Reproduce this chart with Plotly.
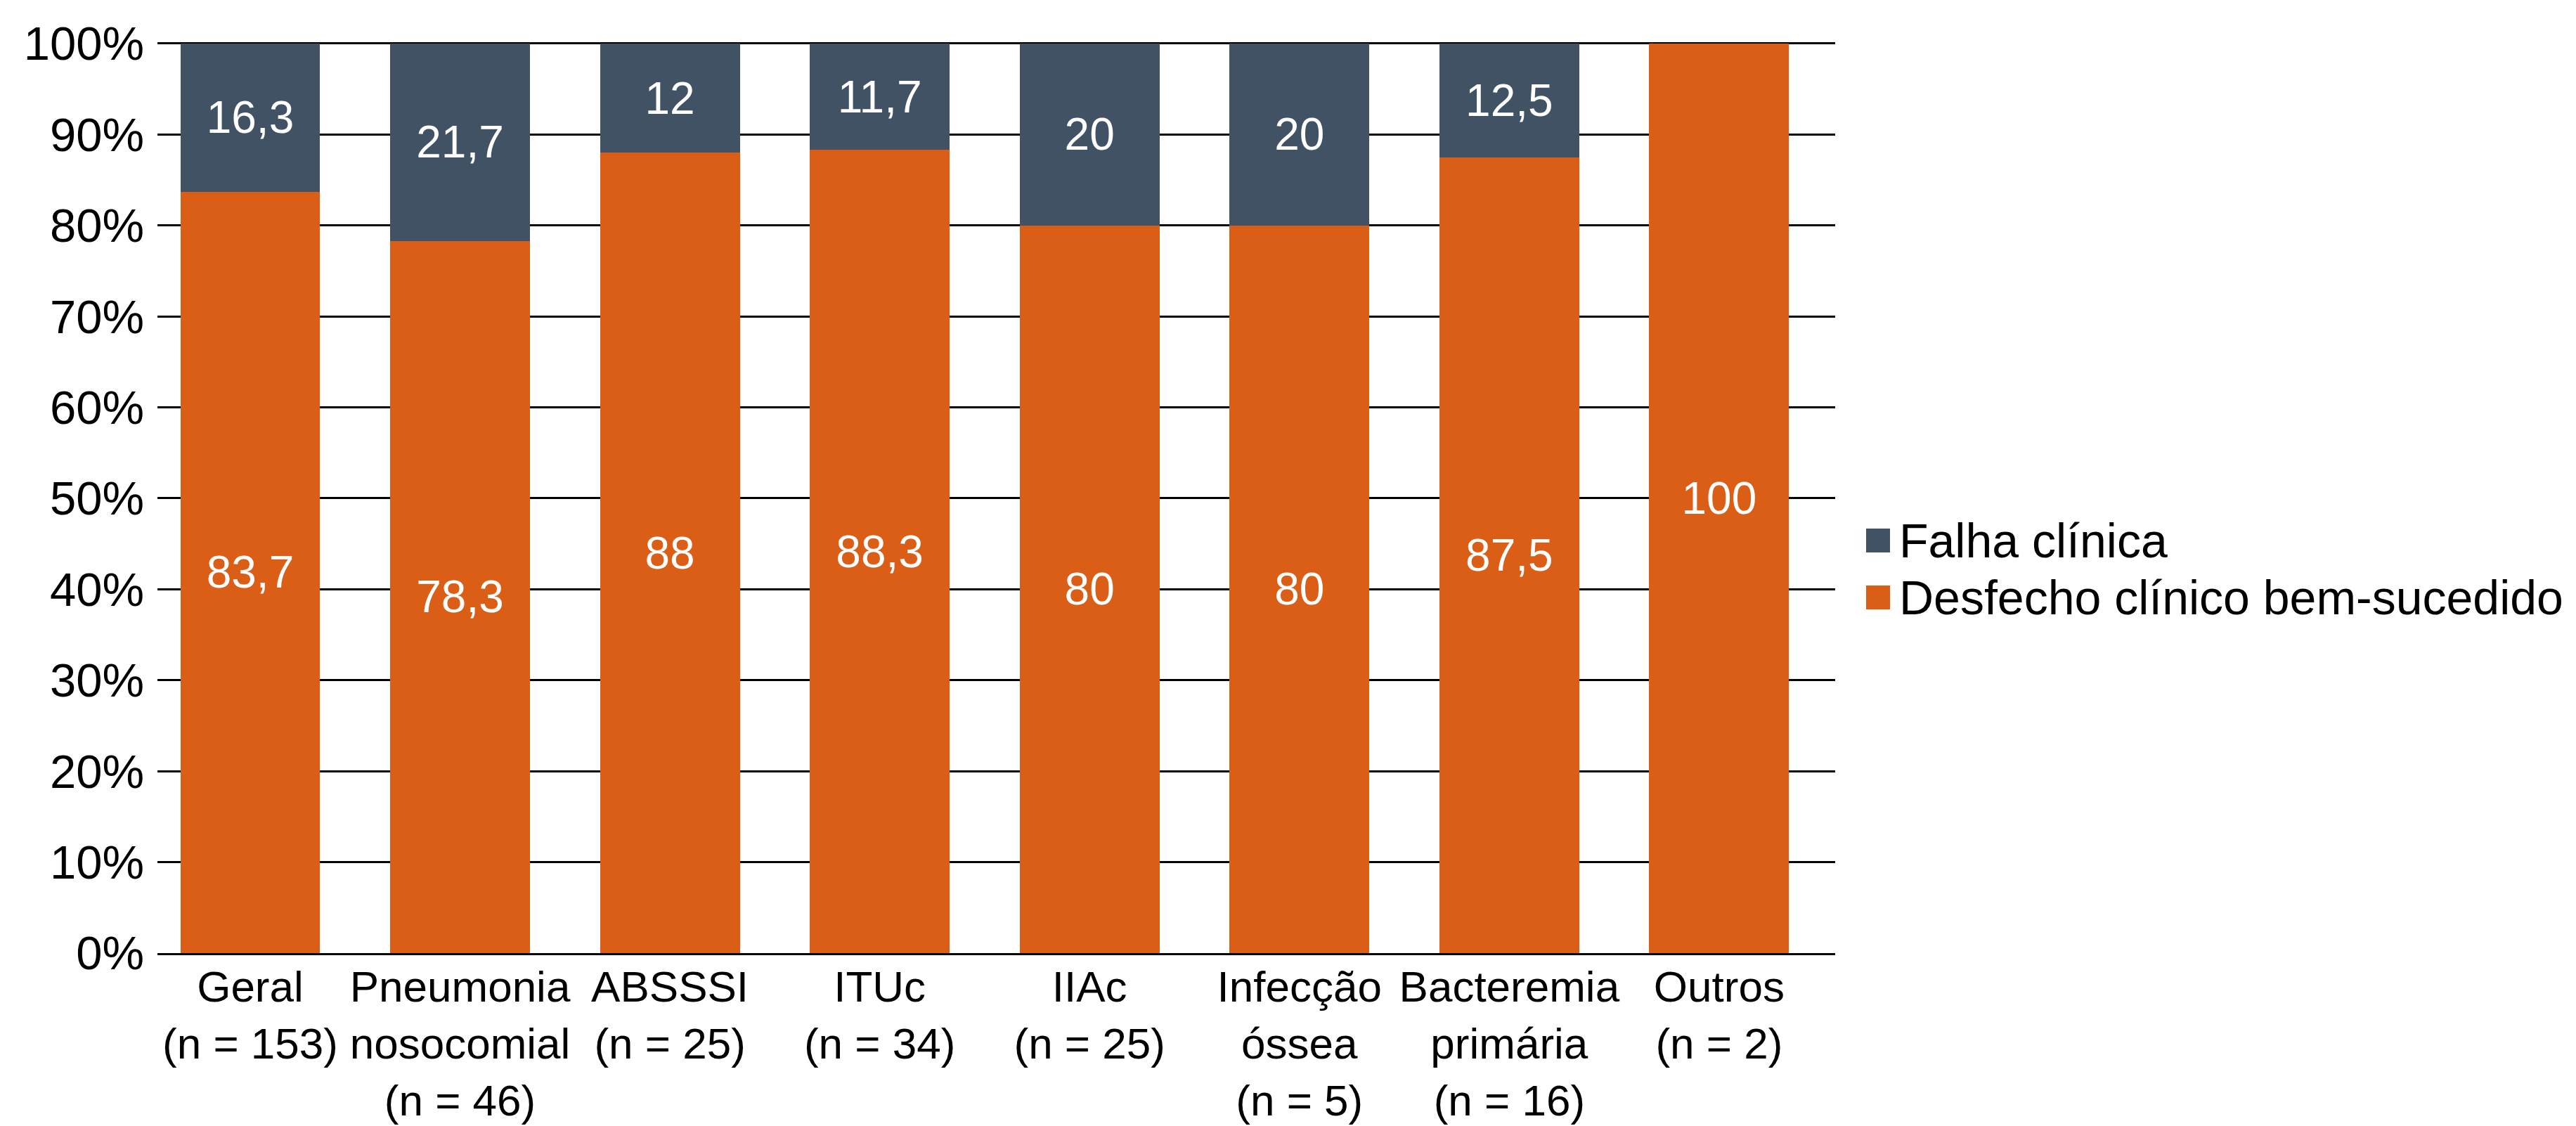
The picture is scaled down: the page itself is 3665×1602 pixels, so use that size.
import plotly.graph_objects as go

# Categories (x-axis tick labels)
categorias = [
    "Geral<br>(n = 153)",
    "Pneumonia<br>nosocomial<br>(n = 46)",
    "ABSSSI<br>(n = 25)",
    "ITUc<br>(n = 34)",
    "IIAc<br>(n = 25)",
    "Infecção<br>óssea<br>(n = 5)",
    "Bacteremia<br>primária<br>(n = 16)",
    "Outros<br>(n = 2)",
]

# Series values (%)
sucesso = [83.7, 78.3, 88, 88.3, 80, 80, 87.5, 100]
falha = [16.3, 21.7, 12, 11.7, 20, 20, 12.5, 0]

nome_sucesso = "Desfecho clínico bem-sucedido"
nome_falha = "Falha clínica"

# y-axis ticks
y_ticks = list(range(0, 101, 10))
y_tick_labels = [f"{v}%" for v in y_ticks]

COR_SUCESSO = "#DA5E16"
COR_FALHA = "#405264"
FONTE = "Liberation Sans, Arial, Helvetica, sans-serif"


def rotulo(v):
    if v == 0:
        return ""
    s = f"{v:g}"
    return s.replace(".", ",")


fig = go.Figure()
fig.add_trace(go.Bar(
    x=categorias, y=sucesso, name=nome_sucesso,
    marker=dict(color=COR_SUCESSO, line=dict(width=0)),
    text=[rotulo(v) for v in sucesso], textposition="inside",
    insidetextanchor="middle", constraintext="none",
    textfont=dict(color="white", size=64, family=FONTE),
    hoverinfo="skip",
))
fig.add_trace(go.Bar(
    x=categorias, y=falha, name=nome_falha,
    marker=dict(color=COR_FALHA, line=dict(width=0)),
    text=[rotulo(v) for v in falha], textposition="inside",
    insidetextanchor="middle", constraintext="none",
    textfont=dict(color="white", size=64, family=FONTE),
    hoverinfo="skip",
))

W_PLOT = 3665 - 224 - 1054
H_PLOT = 1602 - 58 - 246


def px_x(x):
    return (x - 224) / W_PLOT


def px_y(y):
    return (1356 - y) / H_PLOT


# Legend drawn as squares + labels to the right of the plot
legenda = [(nome_falha, COR_FALHA, 752), (nome_sucesso, COR_SUCESSO, 833)]
shapes = []
annotations = []
for nome, cor, ytop in legenda:
    shapes.append(dict(
        type="rect", xref="paper", yref="paper",
        x0=px_x(2655), x1=px_x(2689), y0=px_y(ytop), y1=px_y(ytop + 34),
        fillcolor=cor, line=dict(width=0),
    ))
    annotations.append(dict(
        xref="paper", yref="paper", x=px_x(2700), y=px_y(ytop + 17),
        xanchor="left", yanchor="middle", text=nome, showarrow=False,
        font=dict(size=68, color="black", family=FONTE),
    ))

fig.update_layout(
    barmode="stack",
    bargap=0.334,
    width=3665, height=1602,
    margin=dict(l=224, r=1054, t=58, b=246, pad=0, autoexpand=False),
    paper_bgcolor="white", plot_bgcolor="white",
    showlegend=False,
    font=dict(family=FONTE, color="black", size=62),
    shapes=shapes,
    annotations=annotations,
    xaxis=dict(
        range=[-0.442, 7.553], automargin=False, tickangle=0,
        showline=True, linecolor="black", linewidth=3,
        showgrid=False, ticks="", tickfont=dict(size=62, color="black"),
        ticklabelstandoff=-8,
        fixedrange=True,
    ),
    yaxis=dict(
        range=[0, 100.3], tickvals=y_ticks, ticktext=y_tick_labels,
        automargin=False,
        showgrid=True, gridcolor="black", gridwidth=3,
        zeroline=False, showline=False, ticks="",
        ticklabelstandoff=18,
        tickfont=dict(size=67, color="black"),
        fixedrange=True,
    ),
)

fig.write_html("out.html")
